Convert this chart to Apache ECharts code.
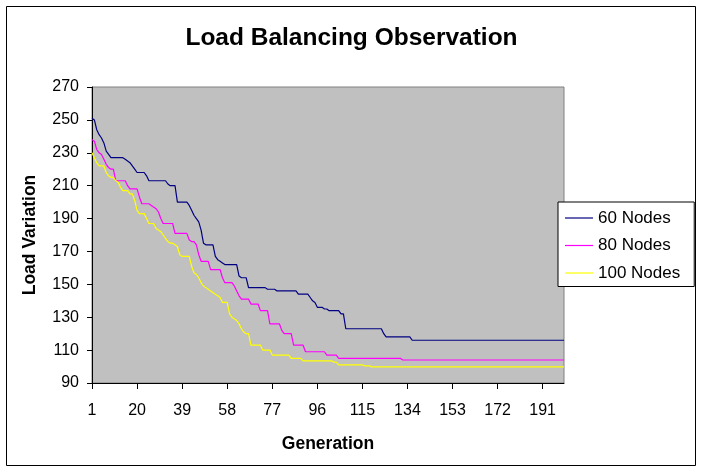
<!DOCTYPE html>
<html>
<head>
<meta charset="utf-8">
<script src="https://cdn.jsdelivr.net/npm/echarts@6/dist/echarts.min.js"></script>
<style>
html,body{margin:0;padding:0;background:#fff;}
#c{width:703px;height:473px;}
</style>
</head>
<body>
<div id="c"></div>
<script>
var titleText = 'Load Balancing Observation';
var xName = 'Generation';
var yName = 'Load Variation';
var seriesNames = ['60 Nodes', '80 Nodes', '100 Nodes'];
var seriesColors = ['#000080', '#FF00FF', '#FFFF00'];

var categories = [];
for (var k = 1; k <= 200; k++) categories.push(String(k));

var nodes60 = [
251,250,244,241,239,236,231,229,227,227,
227,227,227,227,226,225,224,222,220,218,
218,218,218,216,213,213,213,213,213,213,
213,213,211,210,210,210,200,200,200,200,
200,198,195,192,190,188,183,175,174,174,
174,174,167,165,164,163,162,162,162,162,
162,162,155,154,154,154,148,148,148,148,
148,148,148,148,147,147,147,147,146,146,
146,146,146,146,146,146,146,144,144,144,
144,144,142,140,139,136,136,136,135,135,
134,134,134,134,134,132,132,123,123,123,
123,123,123,123,123,123,123,123,123,123,
123,123,123,120,118,118,118,118,118,118,
118,118,118,118,118,116,116,116,116,116,
116,116,116,116,116,116,116,116,116,116,
116,116,116,116,116,116,116,116,116,116,
116,116,116,116,116,116,116,116,116,116,
116,116,116,116,116,116,116,116,116,116,
116,116,116,116,116,116,116,116,116,116,
116,116,116,116,116,116,116,116,116,116
];

var nodes80 = [
238,237,232,230,229,226,223,221,220,220,
213,213,213,213,213,210,208,208,208,208,
203,199,199,199,199,198,197,196,194,190,
187,187,187,187,187,181,181,181,181,181,
181,177,176,176,174,168,164,164,164,164,
159,159,159,159,159,154,151,151,151,151,
149,146,143,141,141,141,141,138,138,138,
138,134,134,134,134,126,126,126,126,126,
122,120,120,120,120,113,113,113,113,113,
109,109,109,109,109,109,109,109,109,107,
107,107,107,107,105,105,105,105,105,105,
105,105,105,105,105,105,105,105,105,105,
105,105,105,105,105,105,105,105,105,105,
105,104,104,104,104,104,104,104,104,104,
104,104,104,104,104,104,104,104,104,104,
104,104,104,104,104,104,104,104,104,104,
104,104,104,104,104,104,104,104,104,104,
104,104,104,104,104,104,104,104,104,104,
104,104,104,104,104,104,104,104,104,104,
104,104,104,104,104,104,104,104,104,104
];

var nodes100 = [
230,227,224,222,222,222,218,216,215,215,
213,212,209,207,207,207,205,205,201,195,
193,193,193,190,187,187,187,184,183,182,
180,178,176,175,175,174,173,168,167,167,
167,167,161,157,156,154,151,149,148,147,
146,145,144,143,142,139,139,139,132,130,
129,128,126,123,121,120,120,113,113,113,
113,113,110,110,110,110,107,107,107,107,
107,107,107,107,105,105,105,105,105,103.5,
103.5,103.5,103.5,103.5,103.5,103.5,103.5,103.5,103.5,103.5,
103.5,103.5,102.7,102.7,101,101,101,101,101,101,
101,101,101,101,101,100.4,100.4,100.4,99.8,99.8,
99.8,99.8,99.8,99.8,99.8,99.8,99.8,99.8,99.8,99.8,
99.8,99.8,99.8,99.8,99.8,99.8,99.8,99.8,99.8,99.8,
99.8,99.8,99.8,99.8,99.8,99.8,99.8,99.8,99.8,99.8,
99.8,99.8,99.8,99.8,99.8,99.8,99.8,99.8,99.8,99.8,
99.8,99.8,99.8,99.8,99.8,99.8,99.8,99.8,99.8,99.8,
99.8,99.8,99.8,99.8,99.8,99.8,99.8,99.8,99.8,99.8,
99.8,99.8,99.8,99.8,99.8,99.8,99.8,99.8,99.8,99.8,
99.8,99.8,99.8,99.8,99.8,99.8,99.8,99.8,99.8,99.8
];

var yMin = 90, yMax = 270, yStep = 20;
var FONT = '"Liberation Sans", Arial, Helvetica, sans-serif';

var chart = echarts.init(document.getElementById('c'), null, {renderer: 'canvas'});
var dataSets = [nodes60, nodes80, nodes100];
var series = seriesNames.map(function (n, i) {
  return {
    name: n, type: 'line', data: dataSets[i], symbol: 'none', showSymbol: false,
    lineStyle: {color: seriesColors[i], width: 1.2}, itemStyle: {color: seriesColors[i]},
    silent: true, animation: false
  };
});

chart.setOption({
  animation: false,
  backgroundColor: '#ffffff',
  title: {
    text: titleText, left: 'center', top: 19,
    textStyle: {fontFamily: FONT, fontSize: 24.5, fontWeight: 'bold', color: '#000', lineHeight: 28}
  },
  graphic: [{
    type: 'rect', z: -10, silent: true,
    shape: {x: 6.5, y: 6.5, width: 689, height: 459},
    style: {fill: 'none', stroke: '#000', lineWidth: 1}
  }],
  legend: {
    orient: 'vertical', left: 558, top: 202,
    icon: 'rect',
    itemWidth: 28, itemHeight: 1.2, itemGap: 10.5,
    padding: [7.5, 14, 5, 7],
    backgroundColor: '#fff', borderColor: '#000', borderWidth: 1,
    textStyle: {fontFamily: FONT, fontSize: 17, color: '#000'},
    data: seriesNames
  },
  grid: {
    left: 92, right: 139, top: 87, bottom: 90,
    show: true, backgroundColor: '#C0C0C0', borderColor: '#808080', borderWidth: 1,
    containLabel: false
  },
  xAxis: {
    type: 'category', data: categories, boundaryGap: false,
    name: xName, nameLocation: 'middle', nameGap: 52,
    nameTextStyle: {fontFamily: FONT, fontSize: 17.5, fontWeight: 'bold', color: '#000'},
    axisLine: {show: true, lineStyle: {color: '#000', width: 1}},
    axisTick: {show: true, interval: 18, length: 6, inside: false, lineStyle: {color: '#000'}},
    axisLabel: {interval: 18, margin: 20, fontFamily: FONT, fontSize: 16, color: '#000'},
    splitLine: {show: false}
  },
  yAxis: {
    type: 'value', min: yMin, max: yMax, interval: yStep,
    name: yName, nameLocation: 'middle', nameGap: 53,
    nameTextStyle: {fontFamily: FONT, fontSize: 17.5, fontWeight: 'bold', color: '#000'},
    axisLine: {show: true, lineStyle: {color: '#000', width: 1}},
    axisTick: {show: true, length: 5, inside: false, lineStyle: {color: '#000'}},
    axisLabel: {margin: 13, fontFamily: FONT, fontSize: 16, color: '#000'},
    splitLine: {show: false}
  },
  series: series
});
</script>
</body>
</html>
